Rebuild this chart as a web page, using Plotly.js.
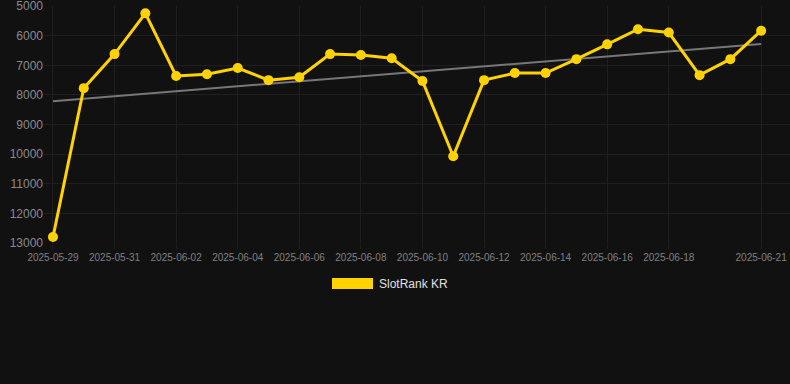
<!DOCTYPE html>
<html>
<head>
<meta charset="utf-8">
<script src="https://cdn.plot.ly/plotly-3.0.1.min.js"></script>
<style>
html,body{margin:0;padding:0;background:#111111;}
#chart{width:790px;height:384px;}
</style>
</head>
<body>
<div id="chart"></div>
<script>
const dates = ["2025-05-29","2025-05-30","2025-05-31","2025-06-01","2025-06-02","2025-06-03","2025-06-04","2025-06-05","2025-06-06","2025-06-07","2025-06-08","2025-06-09","2025-06-10","2025-06-11","2025-06-12","2025-06-13","2025-06-14","2025-06-15","2025-06-16","2025-06-17","2025-06-18","2025-06-19","2025-06-20","2025-06-21"];
const ranks = [12800,7770,6620,5240,7360,7300,7090,7500,7400,6620,6650,6760,7530,10070,7500,7260,7260,6790,6290,5780,5890,7330,6790,5830];
const trendDates = ["2025-05-29","2025-06-21"];
const trendValues = [8210,6280];
const tickDates = ["2025-05-29","2025-05-31","2025-06-02","2025-06-04","2025-06-06","2025-06-08","2025-06-10","2025-06-12","2025-06-14","2025-06-16","2025-06-18","2025-06-21"];
const yTicks = [5000,6000,7000,8000,9000,10000,11000,12000,13000];
const seriesName = "SlotRank KR";

const traces = [
  {
    x: trendDates, y: trendValues, type: "scatter", mode: "lines",
    line: {color: "#777777", width: 2}, hoverinfo: "skip", showlegend: false
  },
  {
    x: dates, y: ranks, type: "scatter", mode: "lines+markers", name: seriesName,
    line: {color: "#FFD200", width: 3},
    marker: {color: "#FFD200", size: 10},
    showlegend: false, cliponaxis: false
  }
];

const layout = {
  width: 790, height: 384,
  paper_bgcolor: "#111111", plot_bgcolor: "#111111",
  margin: {l: 44, r: 0, t: 6, b: 141},
  font: {family: "Liberation Sans, Arial, sans-serif", color: "#888888"},
  xaxis: {
    type: "date",
    range: ["2025-05-28 17:00", "2025-06-21 22:30"],
    tickvals: tickDates,
    ticktext: tickDates,
    tickfont: {size: 10, color: "#808080"},
    showgrid: true, gridcolor: "#1f1f1f", gridwidth: 1,
    zeroline: false, showline: false,
    ticks: "outside", ticklen: 5, tickcolor: "#1f1f1f"
  },
  yaxis: {
    range: [13000, 4995],
    tickvals: yTicks,
    ticktext: yTicks.map(String),
    tickfont: {size: 12, color: "#8a8a8a"},
    showgrid: true, gridcolor: "#1f1f1f", gridwidth: 1,
    zeroline: false, showline: false, ticks: "",
    ticklabelstandoff: 0,
    ticklabeloverflow: "allow"
  },
  shapes: [
    {type: "rect", xref: "paper", yref: "paper",
     x0: (332-44)/746, x1: (373-44)/746, y0: -(278-243)/237, y1: -(289-243)/237,
     fillcolor: "#FFD200", line: {width: 0}}
  ],
  annotations: [
    {xref: "paper", yref: "paper", x: (377-44)/746, y: -(284-243)/237,
     xanchor: "left", yanchor: "middle", showarrow: false,
     text: seriesName, font: {size: 12, color: "#e0e0e0"}}
  ],
  showlegend: false
};

Plotly.newPlot("chart", traces, layout, {displayModeBar: false, staticPlot: true});
</script>
</body>
</html>
